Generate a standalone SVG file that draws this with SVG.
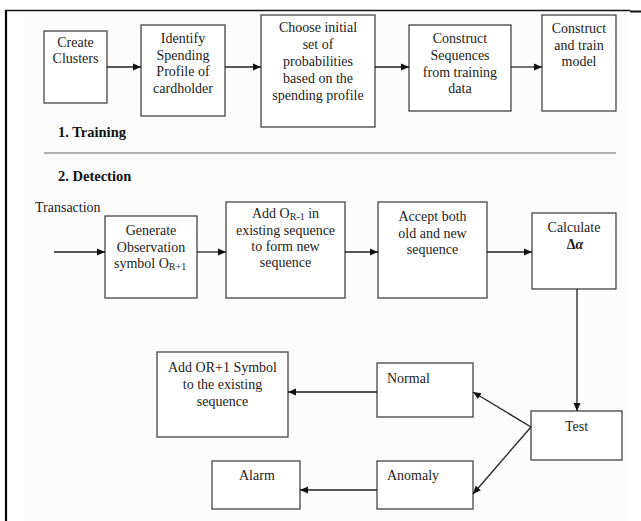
<svg xmlns="http://www.w3.org/2000/svg" width="641" height="521" viewBox="0 0 641 521">
  <defs>
    <marker id="arrow" markerUnits="userSpaceOnUse" markerWidth="9" markerHeight="8" refX="8" refY="4" orient="auto">
      <path d="M0,0.5 L8,4 L0,7.5 Z" fill="#111"/>
    </marker>
    <style>
      .box { fill: #ffffff; stroke: #444; stroke-width: 1.3; }
      .txt { font-family: "Liberation Serif", "Times New Roman", serif; font-size: 14px; fill: #1c1c1c; }
      .mid { text-anchor: middle; }
      .hd { font-family: "Liberation Serif", "Times New Roman", serif; font-size: 14.5px; font-weight: bold; fill: #111; }
      .sub { font-size: 10px; }
      .conn { fill: none; stroke: #222; stroke-width: 1.3; }
    </style>
  </defs>

  <!-- page background and frame -->
  <rect x="0" y="0" width="641" height="521" fill="#ffffff"/>
  <rect x="24" y="12" width="606" height="509" fill="#fcfcfc"/>
  <line x1="6" y1="10" x2="6" y2="521" stroke="#000" stroke-width="2.2"/>
  <line x1="5" y1="10.5" x2="630" y2="10.5" stroke="#111" stroke-width="1.4"/>
  <line x1="630" y1="11.5" x2="641" y2="11.5" stroke="#111" stroke-width="2"/>

  <!-- section headings and divider -->
  <text class="hd" x="58" y="137">1. Training</text>
  <line x1="44" y1="153" x2="616" y2="153" stroke="#666" stroke-width="1.2"/>
  <text class="hd" x="58" y="181">2. Detection</text>
  <text class="txt" x="35" y="212">Transaction</text>

  <!-- training nodes -->
  <g id="create-clusters">
    <rect class="box" x="44" y="31" width="63" height="72"/>
    <text class="txt mid" x="75.5" y="47">Create</text>
    <text class="txt mid" x="75.5" y="63">Clusters</text>
  </g>
  <g id="identify-profile">
    <rect class="box" x="141" y="25" width="84" height="91"/>
    <text class="txt mid" x="183" y="43">Identify</text>
    <text class="txt mid" x="183" y="59.5">Spending</text>
    <text class="txt mid" x="183" y="76">Profile of</text>
    <text class="txt mid" x="183" y="92.5">cardholder</text>
  </g>
  <g id="choose-probabilities">
    <rect class="box" x="261" y="15" width="114" height="112"/>
    <text class="txt mid" x="318" y="32">Choose initial</text>
    <text class="txt mid" x="318" y="49">set of</text>
    <text class="txt mid" x="318" y="66">probabilities</text>
    <text class="txt mid" x="318" y="83">based on the</text>
    <text class="txt mid" x="318" y="100">spending profile</text>
  </g>
  <g id="construct-sequences">
    <rect class="box" x="409" y="25" width="102" height="86"/>
    <text class="txt mid" x="460" y="43">Construct</text>
    <text class="txt mid" x="460" y="60">Sequences</text>
    <text class="txt mid" x="460" y="76.5">from training</text>
    <text class="txt mid" x="460" y="93">data</text>
  </g>
  <g id="construct-model">
    <rect class="box" x="542" y="15" width="74" height="96"/>
    <text class="txt mid" x="579" y="33">Construct</text>
    <text class="txt mid" x="579" y="50">and train</text>
    <text class="txt mid" x="579" y="66">model</text>
  </g>

  <!-- detection nodes -->
  <g id="generate-symbol">
    <rect class="box" x="105" y="216" width="92" height="82"/>
    <text class="txt mid" x="151" y="235">Generate</text>
    <text class="txt mid" x="151" y="251.5">Observation</text>
    <text class="txt" x="114" y="268">symbol O<tspan class="sub" dy="2">R+1</tspan></text>
  </g>
  <g id="add-to-sequence">
    <rect class="box" x="226" y="202" width="119" height="96"/>
    <text class="txt" x="252" y="218">Add O<tspan class="sub" dy="2">R-1</tspan><tspan dy="-2"> in</tspan></text>
    <text class="txt mid" x="285.5" y="234.5">existing sequence</text>
    <text class="txt mid" x="285.5" y="251">to form new</text>
    <text class="txt mid" x="285.5" y="267">sequence</text>
  </g>
  <g id="accept-both">
    <rect class="box" x="378" y="202" width="109" height="96"/>
    <text class="txt mid" x="432.5" y="221">Accept both</text>
    <text class="txt mid" x="432.5" y="237.5">old and new</text>
    <text class="txt mid" x="432.5" y="254">sequence</text>
  </g>
  <g id="calculate-delta">
    <rect class="box" x="532" y="213" width="84" height="76"/>
    <text class="txt mid" x="574" y="232">Calculate</text>
    <text class="txt mid" x="575" y="249" font-size="15"><tspan font-weight="bold">Δ</tspan><tspan font-style="italic" font-weight="bold">α</tspan></text>
  </g>
  <g id="test">
    <rect class="box" x="531" y="411" width="91" height="49"/>
    <text class="txt" x="565" y="431">Test</text>
  </g>
  <g id="normal">
    <rect class="box" x="377" y="363" width="96" height="54"/>
    <text class="txt" x="387" y="383">Normal</text>
  </g>
  <g id="anomaly">
    <rect class="box" x="377" y="461" width="96" height="48"/>
    <text class="txt" x="387" y="480">Anomaly</text>
  </g>
  <g id="add-symbol">
    <rect class="box" x="157" y="352" width="131" height="85"/>
    <text class="txt mid" x="222.5" y="372">Add OR+1 Symbol</text>
    <text class="txt mid" x="222.5" y="389">to the existing</text>
    <text class="txt mid" x="222.5" y="406">sequence</text>
  </g>
  <g id="alarm">
    <rect class="box" x="212" y="461" width="88" height="48"/>
    <text class="txt" x="239" y="480">Alarm</text>
  </g>

  <!-- connectors -->
  <g id="connectors">
    <line class="conn" x1="107" y1="67" x2="141" y2="67" marker-end="url(#arrow)"/>
    <line class="conn" x1="225" y1="67" x2="261" y2="67" marker-end="url(#arrow)"/>
    <line class="conn" x1="375" y1="67" x2="409" y2="67" marker-end="url(#arrow)"/>
    <line class="conn" x1="511" y1="67" x2="542" y2="67" marker-end="url(#arrow)"/>
    <line class="conn" x1="54" y1="252" x2="105" y2="252" marker-end="url(#arrow)"/>
    <line class="conn" x1="197" y1="252" x2="226" y2="252" marker-end="url(#arrow)"/>
    <line class="conn" x1="345" y1="252" x2="378" y2="252" marker-end="url(#arrow)"/>
    <line class="conn" x1="487" y1="252" x2="532" y2="252" marker-end="url(#arrow)"/>
    <line class="conn" x1="577" y1="289" x2="577" y2="411" marker-end="url(#arrow)"/>
    <line class="conn" x1="531" y1="427" x2="473" y2="392" marker-end="url(#arrow)"/>
    <line class="conn" x1="531" y1="427" x2="473" y2="494" marker-end="url(#arrow)"/>
    <line class="conn" x1="377" y1="392" x2="288" y2="392" marker-end="url(#arrow)"/>
    <line class="conn" x1="377" y1="490" x2="300" y2="490" marker-end="url(#arrow)"/>
  </g>
</svg>
